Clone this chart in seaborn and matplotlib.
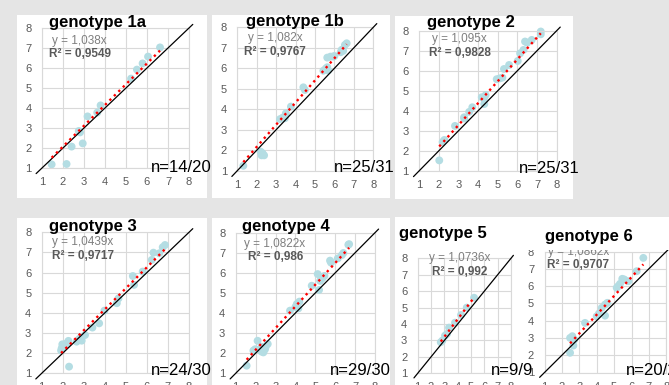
import matplotlib
matplotlib.use("Agg")
import matplotlib.pyplot as plt
from matplotlib.patches import Rectangle
import seaborn as sns
import numpy as np

sns.set_style("white")
plt.rcParams["font.family"] = ["Liberation Sans", "DejaVu Sans"]

W, H = 669, 385

# ---- data ---------------------------------------------------------------
g1a_x = [1.46, 2.17, 2.41, 2.94, 2.81, 3.17, 3.63, 3.79, 5.24, 5.52, 5.79, 6.05, 6.62, 2.75]
g1a_y = [1.18, 1.20, 2.07, 2.23, 2.78, 3.58, 3.77, 4.13, 5.47, 5.92, 6.23, 6.57, 7.03, 2.85]

g1b_x = [1.31, 2.20, 2.25, 2.30, 2.38, 3.20, 3.45, 3.50, 3.76, 4.40, 4.48, 5.43, 5.55,
         5.63, 5.68, 5.63, 5.80, 5.94, 6.00, 6.32, 6.37, 6.54, 6.63, 6.45, 3.35]
g1b_y = [1.24, 1.93, 1.75, 1.85, 1.75, 3.52, 3.56, 3.80, 4.13, 5.07, 4.94, 5.88, 5.98,
         6.52, 5.89, 6.05, 6.57, 6.57, 6.60, 6.78, 6.90, 7.14, 7.22, 6.85, 3.60]

g2_x = [2.03, 2.29, 2.20, 2.83, 3.29, 3.55, 3.71, 4.19, 4.39, 4.32, 4.30, 4.95, 5.10,
        5.24, 5.32, 5.58, 6.02, 6.14, 6.31, 6.39, 6.50, 6.73, 7.19, 7.19, 3.30]
g2_y = [1.53, 2.55, 2.45, 3.25, 3.68, 3.95, 4.18, 4.68, 4.79, 4.34, 4.60, 5.58, 5.62,
        5.66, 6.09, 6.29, 6.49, 6.87, 7.04, 7.46, 7.40, 7.54, 7.96, 7.82, 3.62]

g3_x = [2.30, 1.92, 1.98, 2.19, 2.27, 2.05, 2.66, 2.90, 3.06, 3.41, 3.73, 3.98, 4.57,
        4.65, 5.33, 5.39, 5.80, 6.23, 6.31, 6.59, 6.75, 6.86, 1.95, 2.80]
g3_y = [1.33, 2.13, 2.44, 2.49, 2.61, 2.30, 2.57, 2.62, 2.90, 3.27, 3.48, 4.11, 4.48,
        4.72, 5.83, 5.39, 6.05, 6.63, 6.99, 6.96, 7.26, 7.37, 2.25, 2.72]

g4_x = [1.55, 1.89, 2.10, 2.31, 2.39, 2.47, 2.61, 2.22, 2.30, 3.73, 4.07, 4.20, 4.15,
        4.82, 5.12, 5.19, 5.24, 5.46, 5.74, 5.79, 6.13, 6.33, 6.41, 6.66, 6.70, 5.35,
        2.50, 1.98, 4.00]
g4_y = [1.38, 2.13, 2.62, 2.32, 2.04, 2.19, 2.46, 2.19, 2.08, 4.12, 4.45, 4.57, 4.23,
        5.36, 5.94, 5.15, 5.60, 5.85, 6.61, 6.51, 6.72, 6.88, 6.99, 7.40, 7.43, 5.72,
        2.30, 2.20, 4.30]

g5_x = [2.73, 2.85, 3.05, 3.20, 3.35, 3.80, 4.25, 4.68, 5.23]
g5_y = [2.89, 2.99, 3.29, 3.40, 3.78, 4.08, 4.55, 5.00, 5.60]

g6_x = [2.47, 2.47, 2.60, 2.66, 2.71, 3.33, 4.00, 4.13, 4.48, 4.48, 4.61, 5.24, 5.34,
        5.47, 5.59, 5.82, 6.30, 6.68, 5.15, 4.29]
g6_y = [2.14, 3.00, 3.10, 2.56, 2.90, 3.87, 4.25, 4.41, 4.29, 4.93, 5.03, 6.00, 6.13,
        6.42, 6.38, 6.28, 6.86, 7.63, 5.90, 4.74]

titles = ["genotype 1a", "genotype 1b", "genotype 2", "genotype 3",
          "genotype 4", "genotype 5", "genotype 6"]
slopes = [1.038, 1.082, 1.095, 1.0439, 1.0822, 1.0736, 1.0862]
r2_values = [0.9549, 0.9767, 0.9828, 0.9717, 0.986, 0.992, 0.9707]
n_labels = ["n=14/20", "n=25/31", "n=25/31", "n=24/30", "n=29/30", "n=9/9", "n=20/24"]
xs_all = [g1a_x, g1b_x, g2_x, g3_x, g4_x, g5_x, g6_x]
ys_all = [g1a_y, g1b_y, g2_y, g3_y, g4_y, g5_y, g6_y]
ticks = [1, 2, 3, 4, 5, 6, 7, 8]

# ---- layout (pixels) ----------------------------------------------------
boxes = [(17, 15, 207, 198), (212, 15, 390, 198), (395, 16, 573, 199),
         (17, 218, 207, 385), (212, 218, 390, 385), (395, 217, 527, 385),
         (527, 217, 669, 385)]
# x at 1, x at 8, y at 8, y at 1
frames = [(42, 189, 28, 168), (237.3, 373.3, 27.3, 170.7), (419, 556.7, 30.7, 171),
          (41.7, 189, 232.3, 373.3), (235.7, 375, 232.7, 373.3),
          (417.7, 511, 258.3, 373.3), (544.5, 666.3, 251.5, 372.5)]
title_pos = [(98, 26.7), (295, 26), (471, 26.7), (93.3, 230.7), (285.8, 230.7),
             (443.3, 238.3), (589, 240.7)]
eq_pos = [(79.5, 40.7), (275, 38.3), (459, 39.3), (82.3, 242.3), (274.7, 244.3),
          (459.2, 258.3), (578.3, 251.7)]
r2_pos = [(80, 54), (275, 52.3), (459.7, 53.3), (82.5, 255.7), (275.5, 257.3),
          (459.5, 271.7), (578, 265)]
n_pos = [(212, 172.5, "right"), (395, 172.5, "right"), (580, 173, "right"),
         (212, 375, "right"), (391, 375, "right"), (533, 375, "right"),
         (626, 375, "left")]

fig = plt.figure(figsize=(W / 100, H / 100), dpi=100, facecolor="#e5e5e5")


def fx(px):
    return px / W


def fy(py):
    return 1 - py / H


for (x0, y0, x1, y1) in boxes:
    fig.patches.append(Rectangle((fx(x0), fy(y1)), fx(x1) - fx(x0), fy(y0) - fy(y1),
                                 transform=fig.transFigure, facecolor="white",
                                 edgecolor="none", zorder=-5))

point_color = "#b4dde3"
grid_color = "#d9d9d9"

for i in range(7):
    xa, xb, ya8, ya1 = frames[i]
    ax = fig.add_axes([fx(xa), fy(ya1), fx(xb) - fx(xa), fy(ya8) - fy(ya1)])
    ax.set_facecolor("none")
    ax.set_xlim(1, 8)
    ax.set_ylim(1, 8)
    ax.set_xticks(ticks)
    ax.set_yticks(ticks)
    ax.grid(True, color=grid_color, linewidth=0.8)
    ax.set_axisbelow(True)
    for sp in ax.spines.values():
        sp.set_color(grid_color)
        sp.set_linewidth(0.8)
    ax.tick_params(length=0, labelsize=8, labelcolor="#595959")
    ax.tick_params(axis="x", pad=6.5)
    ax.tick_params(axis="y", pad=7.5)

    x = np.array(xs_all[i])
    y = np.array(ys_all[i])
    sns.scatterplot(x=x, y=y, ax=ax, s=32, color=point_color, edgecolor="none",
                    linewidth=0, zorder=2, clip_on=False, legend=False)
    # identity reference line
    ax.plot([0.72, 8.18], [0.72, 8.18], color="black", linewidth=0.9,
            zorder=3, clip_on=False)
    # linear trend through origin
    tx = np.array([x.min(), x.max()])
    ax.plot(tx, slopes[i] * tx, linestyle=":", color="#ff0000", linewidth=1.7,
            zorder=4, clip_on=False)
    ax.set_xlabel("")
    ax.set_ylabel("")

    eqz = 1 if i == 6 else 4
    fig.text(fx(eq_pos[i][0]), fy(eq_pos[i][1]),
             "y = " + str(slopes[i]).replace(".", ",") + "x",
             ha="center", va="center", fontsize=8.5, color="#7f7f7f", zorder=eqz)
    fig.text(fx(r2_pos[i][0]), fy(r2_pos[i][1]),
             "R² = " + str(r2_values[i]).replace(".", ","),
             ha="center", va="center", fontsize=8.5, color="#595959",
             fontweight="bold", zorder=eqz)

# title area of the last chart sits over its plot
fig.patches.append(Rectangle((fx(527), fy(249.5)), fx(669) - fx(527), fy(217) - fy(249.5),
                             transform=fig.transFigure, facecolor="white",
                             edgecolor="none", zorder=2))

for i in range(7):
    fig.text(fx(title_pos[i][0]), fy(title_pos[i][1]), titles[i], ha="center",
             va="baseline", fontsize=12, fontweight="bold", color="black", zorder=5)
    nx, ny, ha = n_pos[i]
    fig.text(fx(nx), fy(ny), n_labels[i], ha=ha, va="baseline", fontsize=12,
             color="black", zorder=5)

fig.savefig("out.png", dpi=100, facecolor=fig.get_facecolor())
